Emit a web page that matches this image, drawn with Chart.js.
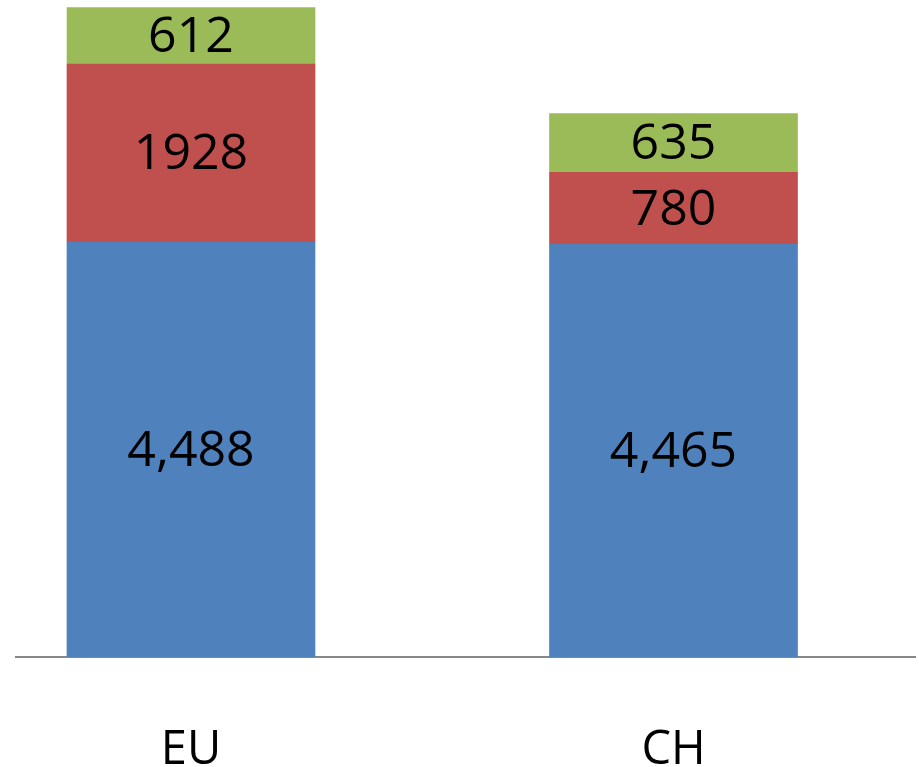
<!DOCTYPE html>
<html>
<head>
<meta charset="utf-8">
<script src="https://cdn.jsdelivr.net/npm/chart.js@4.4.1/dist/chart.umd.min.js"></script>
<style>
  html, body { margin: 0; padding: 0; background: #fff; }
  #wrap { width: 919px; height: 767px; position: relative; }
</style>
</head>
<body>
<div id="wrap"><canvas id="stackChart"></canvas></div>
<script>
// categories and series values
const categories = ['EU', 'CH'];
const seriesBlue = [4488, 4465];
const seriesRed = [1928, 780];
const seriesGreen = [612, 635];

(function(){
    function points(values){
        return values.map(function(v, i){ return { x: i, y: v }; });
    }

    // writes each segment's value in the middle of its bar
    const valueLabels = {
        id: 'valueLabels',
        afterDatasetsDraw(chart){
            const ctx = chart.ctx;
            ctx.save();
            ctx.font = '50px "Open Sans", "Noto Sans", sans-serif';
            ctx.fillStyle = '#000';
            ctx.textAlign = 'center';
            ctx.textBaseline = 'middle';
            chart.data.datasets.forEach(function(ds, di){
                const meta = chart.getDatasetMeta(di);
                meta.data.forEach(function(bar, i){
                    const v = ds.data[i].y;
                    const txt = ds.useComma ? v.toLocaleString('en-US') : String(v);
                    ctx.fillText(txt, bar.x, (bar.y + bar.base) / 2 + 2);
                });
            });
            ctx.restore();
        }
    };

    const canvas = document.getElementById('stackChart');
    const ctx = canvas.getContext('2d');

    new Chart(ctx, {
        type: 'bar',
        data: {
            datasets: [
                { label: 'Blue', data: points(seriesBlue), backgroundColor: '#4F81BD', useComma: true },
                { label: 'Red', data: points(seriesRed), backgroundColor: '#C0504D' },
                { label: 'Green', data: points(seriesGreen), backgroundColor: '#9BBB59' }
            ]
        },
        options: {
            responsive: true,
            maintainAspectRatio: false,
            animation: false,
            barThickness: 248,
            layout: { padding: { left: 16, right: 4, top: 0, bottom: 0 } },
            scales: {
                x: {
                    type: 'linear',
                    stacked: true,
                    offset: false,
                    min: -0.3627,
                    max: 1.5005,
                    grid: { display: false, offset: false },
                    border: { display: true, color: '#888888', width: 2 },
                    afterBuildTicks(scale){
                        scale.ticks = categories.map(function(c, i){ return { value: i }; });
                    },
                    afterFit(scale){ scale.height = 110; },
                    ticks: {
                        padding: 57,
                        maxRotation: 0,
                        color: '#000',
                        font: { family: '"Open Sans", "Noto Sans", sans-serif', size: 47 },
                        callback: function(value){ return categories[value]; }
                    }
                },
                y: {
                    stacked: true,
                    display: false,
                    min: 0,
                    max: 7110
                }
            },
            plugins: {
                legend: { display: false },
                tooltip: { enabled: false }
            }
        },
        plugins: [valueLabels]
    });
})();
</script>
</body>
</html>
